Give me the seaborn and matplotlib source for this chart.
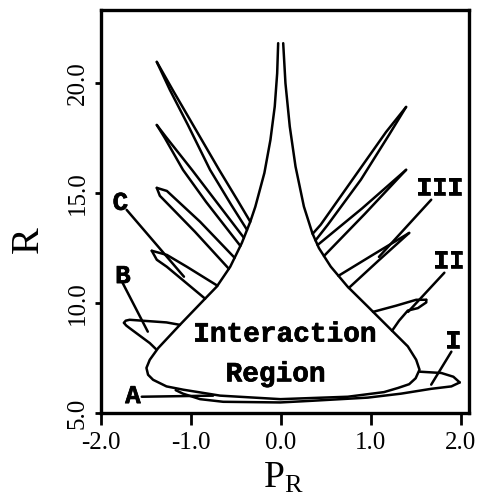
import matplotlib
matplotlib.use("Agg")
import matplotlib.pyplot as plt
import matplotlib.patheffects as pe
import seaborn as sns

# ---- interaction region boundary (open at the cusp: left top -> bottom -> right top)
region_x = [-0.031, -0.042, -0.069, -0.117, -0.184, -0.285, -0.341, -0.434, -0.564,
            -0.713, -0.855, -1.123, -1.365, -1.458, -1.495, -1.477, -1.421, -1.272,
            -1.086, -0.676, -0.006, 0.743, 1.145, 1.302, 1.425, 1.497, 1.540, 1.503,
            1.410, 1.223, 0.963, 0.740, 0.553, 0.422, 0.349, 0.255, 0.162, 0.098,
            0.050, 0.025]
region_R = [21.82, 20.45, 18.94, 17.42, 15.92, 14.38, 13.70, 12.74, 11.65,
            10.75, 10.15, 9.01, 7.95, 7.42, 7.05, 6.74, 6.51, 6.21,
            6.06, 5.79, 5.63, 5.74, 5.95, 6.14, 6.31, 6.58, 6.97, 7.42,
            8.03, 8.79, 9.85, 10.75, 11.66, 12.50, 13.18, 14.39, 16.21, 18.03,
            20.00, 21.82]

# ---- left tongues (upper edge / lower edge)
t1_up_x = [-1.380, -1.190, -0.687, -0.486, -0.341]
t1_up_R = [20.97, 19.60, 16.06, 14.70, 13.70]
t1_lo_x = [-1.380, -1.235, -1.034, -0.788, -0.553, -0.377]
t1_lo_R = [20.97, 19.70, 18.10, 16.06, 14.47, 13.33]

t2_up_x = [-1.380, -1.279, -0.989, -0.412]
t2_up_R = [18.10, 17.56, 16.06, 12.97]
t2_lo_x = [-1.380, -1.291, -1.089, -0.832, -0.451]
t2_lo_R = [18.10, 17.51, 16.06, 14.60, 12.60]

t3_up_x = [-1.380, -1.268, -0.899, -0.515]
t3_up_R = [15.24, 15.10, 13.70, 12.06]
t3_lo_x = [-1.380, -1.346, -0.955, -0.579]
t3_lo_R = [15.24, 14.88, 13.24, 11.56]

t4_up_x = [-1.436, -1.268, -1.045, -0.706]
t4_up_R = [12.38, 12.19, 11.65, 10.79]
t4_lo_x = [-1.436, -1.380, -1.268, -0.843]
t4_lo_R = [12.38, 11.97, 11.65, 10.20]

# ---- right tongues
r1_up_x = [1.391, 1.168, 0.832, 0.441, 0.352]
r1_up_R = [18.92, 17.78, 15.83, 13.56, 13.15]
r1_lo_x = [1.391, 1.201, 0.888, 0.520, 0.384]
r1_lo_R = [18.92, 17.65, 15.61, 13.56, 12.85]

r2_up_x = [1.391, 0.903, 0.407]
r2_up_R = [16.06, 14.31, 12.64]
r2_lo_x = [1.391, 0.933, 0.478]
r2_lo_R = [16.06, 14.06, 12.14]

r3_up_x = [1.425, 1.032, 0.639]
r3_up_R = [13.19, 12.22, 11.24]
r3_lo_x = [1.425, 1.089, 0.755]
r3_lo_R = [13.19, 11.95, 10.69]

r4_up_x = [1.024, 1.279, 1.503, 1.615]
r4_up_R = [9.60, 9.88, 10.15, 10.15]
r4_lo_x = [1.615, 1.615, 1.522, 1.410, 1.313, 1.235]
r4_lo_R = [10.15, 10.03, 9.77, 9.66, 9.20, 8.74]

# ---- lobe I (upper edge) and the long thin lobe under the region
lobeI_up_x = [1.540, 1.782, 1.916, 1.987]
lobeI_up_R = [6.88, 6.82, 6.65, 6.39]
lobe_lo_x = [1.987, 1.894, 1.670, 1.335, 0.966, 0.363, -0.006, -0.642, -0.899, -1.089, -1.170]
lobe_lo_R = [6.39, 6.21, 6.10, 5.88, 5.70, 5.56, 5.48, 5.51, 5.63, 5.88, 6.04]

# ---- lobe B
lobeB_up_x = [-1.123, -1.272, -1.682, -1.725, -1.745]
lobeB_up_R = [9.01, 9.12, 9.24, 9.20, 9.10]
lobeB_lo_x = [-1.745, -1.720, -1.682, -1.458, -1.390]
lobeB_lo_R = [9.10, 8.98, 8.86, 8.18, 7.91]

# ---- label pointers: (x0, x1), (R0, R1)
ptr_A = ([-1.547, -0.754], [5.74, 5.79])
ptr_B = ([-1.760, -1.480], [10.92, 8.70])
ptr_C = ([-1.715, -1.078], [14.24, 11.20])
ptr_I = ([1.894, 1.670], [7.79, 6.29])
ptr_II = ([1.816, 1.413], [11.38, 9.60])
ptr_III = ([1.670, 1.089], [14.70, 12.10])

# ---- labels
label_text = ["A", "B", "C", "I", "II", "III"]
label_x = [-1.645, -1.756, -1.784, 1.913, 1.866, 1.763]
label_R = [5.45, 10.91, 14.24, 7.95, 11.59, 14.92]

x_ticks = [-2.0, -1.0, 0.0, 1.0, 2.0]
x_tick_labels = ["-2.0", "-1.0", "0.0", "1.0", "2.0"]
y_ticks = [5.0, 10.0, 15.0, 20.0]
y_tick_labels = ["5.0", "10.0", "15.0", "20.0"]

sns.set_style("ticks")
plt.rcParams["font.family"] = ["Liberation Serif", "DejaVu Serif"]
plt.rcParams["mathtext.fontset"] = "custom"
plt.rcParams["mathtext.rm"] = "Liberation Serif"
plt.rcParams["mathtext.it"] = "Liberation Serif:italic"
plt.rcParams["text.color"] = "black"
plt.rcParams["axes.labelcolor"] = "black"

fig = plt.figure(figsize=(4.82, 4.98), dpi=100)
ax = fig.add_axes([101 / 482, 85 / 498, 368 / 482, 403 / 498])

LW = 1.8


def trace(xs, rs):
    sns.lineplot(x=xs, y=rs, sort=False, estimator=None, color="black",
                 linewidth=LW, ax=ax, legend=False)


trace(region_x, region_R)
for xs, rs in [(t1_up_x, t1_up_R), (t1_lo_x, t1_lo_R), (t2_up_x, t2_up_R), (t2_lo_x, t2_lo_R),
               (t3_up_x, t3_up_R), (t3_lo_x, t3_lo_R), (t4_up_x, t4_up_R), (t4_lo_x, t4_lo_R),
               (r1_up_x, r1_up_R), (r1_lo_x, r1_lo_R), (r2_up_x, r2_up_R), (r2_lo_x, r2_lo_R),
               (r3_up_x, r3_up_R), (r3_lo_x, r3_lo_R), (r4_up_x, r4_up_R), (r4_lo_x, r4_lo_R),
               (lobeI_up_x, lobeI_up_R), (lobe_lo_x, lobe_lo_R),
               (lobeB_up_x, lobeB_up_R), (lobeB_lo_x, lobeB_lo_R)]:
    trace(xs, rs)

for px, pr in [ptr_A, ptr_B, ptr_C, ptr_I, ptr_II, ptr_III]:
    trace(px, pr)

# heavy typewriter lettering for the labels inside the plot
mono = dict(family=["Liberation Mono", "DejaVu Sans Mono"], weight="bold", color="black",
            path_effects=[pe.withStroke(linewidth=0.5, foreground="black")])
for t, x, r in zip(label_text, label_x, label_R):
    ax.text(x, r, t, ha="center", va="baseline", fontsize=18.5, **mono)
ax.text(0.041, 8.25, "Interaction", ha="center", va="baseline", fontsize=20, **mono)
ax.text(-0.061, 6.44, "Region", ha="center", va="baseline", fontsize=20, **mono)

ax.set_xlim(-2.0, 2.09)
ax.set_ylim(5.0, 23.33)
ax.set_xticks(x_ticks)
ax.set_xticklabels(x_tick_labels)
ax.set_yticks(y_ticks)
ax.set_yticklabels(y_tick_labels, rotation=90, va="center")
ax.tick_params(axis="x", direction="out", length=8.5, width=2.0, labelsize=18, pad=5,
               color="black", labelcolor="black")
ax.tick_params(axis="y", direction="out", length=4, width=2.0, labelsize=18, pad=5,
               color="black", labelcolor="black")
for s in ax.spines.values():
    s.set_linewidth(2.4)
    s.set_color("black")
    s.set_visible(True)

ax.set_xlabel(r"$\mathrm{P_R}$", fontsize=27)
ax.xaxis.set_label_coords(0.496, -0.12)
ax.set_ylabel("R", fontsize=29)
ax.yaxis.set_label_coords(-0.148, 0.429)

fig.savefig("out.png", dpi=100)
